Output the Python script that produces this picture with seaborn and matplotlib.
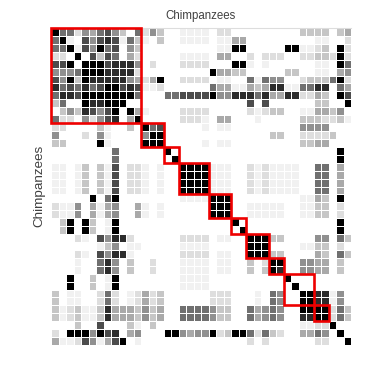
import matplotlib
matplotlib.use("Agg")
import matplotlib.pyplot as plt
from matplotlib.colors import ListedColormap
from matplotlib.patches import Rectangle
import numpy as np
import seaborn as sns

# shade of each cell, 0 = white, 9 = black, spaces only mark the groups
rows = [
    "966254675306 253 00 1111 022 00 000 00 0033 33 034",
    "691075787163 103 00 1111 011 44 000 00 0000 11 002",
    "669175967053 000 00 0000 011 99 000 00 9911 23 092",
    "220907376042 000 00 1111 044 00 202 22 0022 33 292",
    "779099978885 020 00 2222 000 99 101 00 0000 11 096",
    "555699988882 000 00 0000 944 33 000 00 3300 11 045",
    "759398888854 249 00 2222 011 00 616 55 0023 33 692",
    "867686799787 112 00 0000 644 11 434 88 1166 88 064",
    "688799999996 000 66 7777 955 88 868 44 8822 43 097",
    "360098899900 000 00 0000 000 00 707 00 0000 33 009",
    "035387579094 100 00 2222 000 00 212 33 0011 44 350",
    "622052578049 000 00 2221 044 00 010 00 0033 32 231",
    "220000310030 967 00 0001 011 00 000 00 0055 55 000",
    "500020510000 599 00 0000 000 00 000 33 0022 22 300",
    "330000910000 999 00 0001 011 00 000 00 0033 44 000",
    "000000006000 000 90 0000 000 00 000 00 0000 00 090",
    "000000006000 000 09 0000 000 00 000 00 0000 00 090",
    "110130317022 101 00 9999 111 00 212 11 1100 66 040",
    "110130317022 101 00 9999 111 00 212 11 1100 66 040",
    "110130317022 101 00 9999 111 00 212 11 1100 66 040",
    "110130317022 101 00 9999 111 00 212 11 1100 66 040",
    "000009069000 000 00 1111 999 00 000 00 0011 43 090",
    "211504145004 101 00 0000 999 00 111 11 0011 33 020",
    "211504145004 101 00 0000 999 00 111 11 0011 33 020",
    "039093019000 000 00 0000 000 90 000 00 0000 00 090",
    "039093019000 000 00 0000 000 09 000 00 0000 00 090",
    "000210758820 000 00 2222 011 00 999 33 0000 55 063",
    "000000135011 000 00 1111 000 00 999 00 0011 33 020",
    "000210758810 000 00 2222 011 00 999 33 0000 43 063",
    "000100685030 020 00 1111 011 00 302 99 0055 44 030",
    "000100685030 020 00 1111 011 00 303 98 0055 44 030",
    "009003019000 000 00 1111 000 00 000 00 9000 00 000",
    "009003019000 000 00 1111 000 00 000 00 0900 00 000",
    "301100262012 423 00 0000 222 00 010 65 0099 88 150",
    "301100262012 423 00 0000 222 00 010 65 0099 88 150",
    "312311384443 534 00 6666 533 00 645 65 0099 99 263",
    "312311384443 534 00 6666 533 00 645 65 0088 99 263",
    "000300700031 030 00 0000 000 00 000 00 0011 22 900",
    "209995978045 000 99 5455 923 99 626 32 0044 65 090",
    "411275147901 000 00 0000 000 00 202 00 0000 22 009",
]
group_sizes = [12, 3, 2, 4, 3, 2, 3, 2, 4, 2]
group_label = "Chimpanzees"

shades = ["#ffffff", "#f1f1f1", "#dedede", "#c6c6c6", "#a9a9a9",
          "#909090", "#707070", "#4c4c4c", "#2c2c2c", "#000000"]

matrix = np.array([[int(ch) for ch in row.replace(" ", "")] for row in rows])

plt.rcParams["font.family"] = ["Liberation Sans", "DejaVu Sans"]

fig = plt.figure(figsize=(3.88, 3.88), dpi=100)
ax = fig.add_axes([51 / 388, 1 - 345 / 388, 300 / 388, 317 / 388])

sns.heatmap(matrix, ax=ax, cmap=ListedColormap(shades), vmin=-0.5, vmax=9.5,
            cbar=False, square=False, linewidths=0.6, linecolor="white",
            xticklabels=False, yticklabels=False)

# red boxes round the groups
start = 0
for size in group_sizes:
    ax.add_patch(Rectangle((start, start), size, size, fill=False,
                           edgecolor="#ee0000", linewidth=1.9, clip_on=False, zorder=5))
    start += size

ax.axhline(0, color="#dddddd", linewidth=0.8, clip_on=False, zorder=1)
ax.tick_params(length=0)

fig.text(200.5 / 388, 1 - 16 / 388, group_label, ha="center", va="center",
         fontsize=8.3, color="#404040")
fig.text(39.5 / 388, 1 - 186 / 388, group_label, ha="center", va="center",
         rotation=90, fontsize=9.7, color="#404040")

fig.savefig("out.png", dpi=100)
